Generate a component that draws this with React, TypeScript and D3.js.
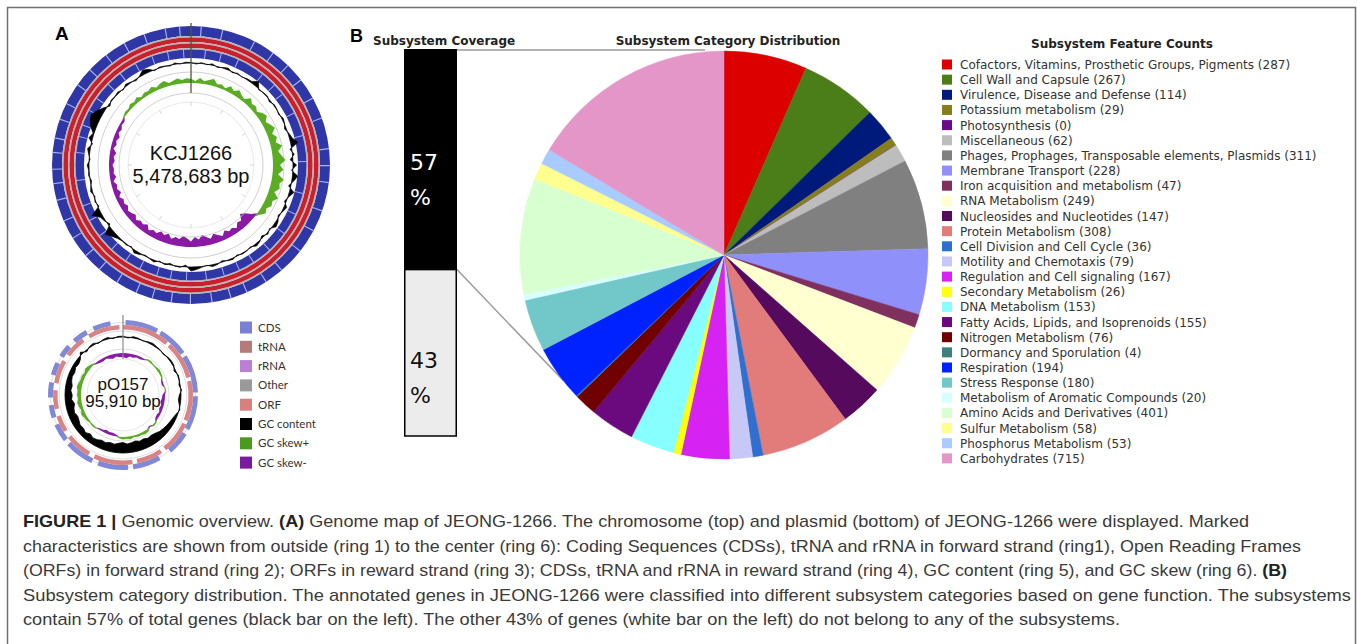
import React, { useEffect, useRef } from 'react';
import * as d3 from 'd3';

// ---- panel B: subsystem data ----
const categories = [
  'Cofactors, Vitamins, Prosthetic Groups, Pigments',
  'Cell Wall and Capsule',
  'Virulence, Disease and Defense',
  'Potassium metabolism',
  'Photosynthesis',
  'Miscellaneous',
  'Phages, Prophages, Transposable elements, Plasmids',
  'Membrane Transport',
  'Iron acquisition and metabolism',
  'RNA Metabolism',
  'Nucleosides and Nucleotides',
  'Protein Metabolism',
  'Cell Division and Cell Cycle',
  'Motility and Chemotaxis',
  'Regulation and Cell signaling',
  'Secondary Metabolism',
  'DNA Metabolism',
  'Fatty Acids, Lipids, and Isoprenoids',
  'Nitrogen Metabolism',
  'Dormancy and Sporulation',
  'Respiration',
  'Stress Response',
  'Metabolism of Aromatic Compounds',
  'Amino Acids and Derivatives',
  'Sulfur Metabolism',
  'Phosphorus Metabolism',
  'Carbohydrates',
];
const counts = [287, 267, 114, 29, 0, 62, 311, 228, 47, 249, 147, 308, 36, 79, 167, 26, 153, 155, 76, 4, 194, 180, 20, 401, 58, 53, 715];
const sliceColors = [
  '#dd0000', '#4b7d19', '#001a7c', '#857d1e', '#6a0a8a', '#bdbdbd', '#808080', '#9090fa',
  '#80305e', '#ffffd0', '#560a5e', '#e27c7a', '#2f6fd0', '#c8c8f6', '#d622f2', '#ffff10',
  '#88ffff', '#6a0a7e', '#700000', '#3f7f7f', '#0022ff', '#72c8c8', '#d8ffff', '#d8ffd0',
  '#ffff90', '#a8ccff', '#e496c8',
];
const coverageValues = [57, 43];

// ---- panel A: genome maps ----
const genomeLegend = ['CDS', 'tRNA', 'rRNA', 'Other', 'ORF', 'GC content', 'GC skew+', 'GC skew-'];
const genomeLegendColors = ['#7c80d2', '#b47b78', '#b87fd4', '#9a9a9a', '#d68080', '#000000', '#4a9a1e', '#7a1a9c'];

// deviation per 3 degree bin
const chromosomeGcContent = [
  0.05, -0.1, 0.1, -0.05, 0.15, -0.1, 0.05, 0.2, -0.1, 0.1,
  -0.05, 0.1, 0.15, 0.6, -0.1, 0.05, 0.1, -0.15, 0.1, 0.05,
  -0.1, 0.15, 0.05, -0.2, 0.1, 0.3, 0.8, -0.2, 0.2, -0.3,
  0.4, -0.15, 0.6, 0.2, -0.25, 0.5, 0.1, -0.2, 0.3, 0.1,
  -0.15, 0.2, 0.35, -0.1, 0.15, -0.2, 0.1, 0.25, -0.1, 0.05,
  0.1, -0.1, 0.15, 0.05, -0.15, 0.1, 0.2, -0.05, 0.1, 0.3,
  0.45, -0.2, 0.1, 0.05, -0.15, 0.1, -0.1, 0.2, 0.05, -0.1,
  0.15, 0.3, -0.1, 0.1, 0.05, 0.2, 0.5, 0.9, -0.2, 0.1,
  0.3, 1.0, -0.15, 0.1, -0.1, 0.2, 0.05, -0.15, 0.1, 0.05,
  0.2, -0.1, 0.1, 0.3, -0.15, 0.4, 0.1, 0.6, 0.9, 1.1,
  0.7, 0.3, -0.2, 0.1, 0.05, 0.15, -0.1, 0.2, 0.05, -0.15,
  0.1, 0.5, 0.3, -0.1, 0.1, 0.05, -0.1, 0.15, -0.05, 0.1,
];
const chromosomeGcSkew = [
  0.3, 0.15, 0.4, 0.2, 0.35, 0.5, 0.2, 0.3, 0.15, 0.45,
  0.25, 0.5, 0.3, 0.2, 0.55, 0.3, 0.4, 0.2, 0.45, 0.6,
  0.3, 0.5, 0.7, 0.35, 0.6, 0.4, 0.8, 0.45, 0.65, 0.9,
  0.5, 0.75, 0.4, 0.85, 0.6, 0.7, 0.4, 0.8, 0.5, 0.6,
  0.35, 0.5, 0.2, -0.3, -0.7, -0.9, -0.5, -0.6, -0.3, -0.5,
  -0.4, -0.6, -0.3, -0.5, -0.7, -0.4, -0.6, -0.8, -0.5, -0.7,
  -0.4, -0.6, -0.75, -0.5, -0.6, -0.4, -0.7, -0.5, -0.65, -0.4,
  -0.5, -0.3, -0.6, -0.4, -0.5, -0.3, -0.55, -0.4, -0.3, -0.5,
  -0.35, -0.45, -0.25, -0.5, -0.3, -0.4, -0.2, -0.45, -0.3, -0.35,
  -0.25, -0.4, -0.3, -0.45, -0.2, -0.35, -0.25, -0.4, -0.2, -0.3,
  -0.15, -0.2, 0.1, 0.2, 0.15, 0.3, 0.2, 0.35, 0.15, 0.3,
  0.25, 0.4, 0.2, 0.35, 0.45, 0.2, 0.3, 0.4, 0.25, 0.35,
];
const chromosomeFwdGaps = [4, 13, 27, 36, 44, 52, 61, 70, 83, 90, 97, 109, 118, 128, 139, 147, 156, 163, 171, 180, 188, 196, 203, 212, 221, 229, 238, 246, 255, 262, 268, 275, 281, 289, 296, 305, 313, 322, 331, 340, 349, 355];
const chromosomeRevGaps = [7, 15, 24, 38, 46, 52, 63, 75, 88, 104, 115, 126, 137, 147, 155, 163, 172, 182, 190, 197, 206, 214, 223, 232, 241, 249, 262, 276, 284, 290, 298, 305, 314, 322, 331, 340, 348, 356];

const plasmidGcContent = [
  0.1, -0.1, 0.15, 0.1, -0.05, 0.1, 0.2, 0.1, 0.05, -0.1, 0.1, 0.15,
  0.1, -0.2, 0.1, 0.05, -0.15, 0.1, -0.2, -0.3, -0.1, 0.1, -0.2, -0.4,
  -0.5, -0.6, -0.7, -0.8, -1.0, -1.1, -1.0, -1.2, -1.1, -1.3, -1.2, -1.1,
  -1.3, -1.2, -1.0, -1.1, -0.9, -1.0, -0.8, -0.7, -0.9, -0.6, -0.8, -0.7,
  -0.9, -1.0, -0.8, -0.9, -1.1, -0.8, -0.9, -0.7, -0.8, -0.6, -0.5, -0.6,
  -0.4, -0.5, -0.3, 0.3, -0.2, 0.1, 0.2, -0.1, 0.1, 0.2, -0.1, 0.1,
];
const plasmidGcSkew = [
  -0.8, -1.0, -0.6, -0.7, -0.4, -0.5, -0.3, 0.3, 0.4, 0.2, 0.3, 0.5,
  0.4, 0.3, -0.3, -0.4, 0.2, 0.3, -0.5, -0.6, -0.8, -0.5, -0.7, -0.4,
  -0.6, -0.5, 0.3, 0.4, -0.3, 0.5, 0.6, 0.4, 0.5, 0.3, 0.6, 0.4,
  0.5, 0.3, -0.4, -0.6, -0.5, -0.7, -0.4, -0.3, 0.3, 0.4, 0.2, 0.5,
  0.6, 0.8, 0.5, 0.7, 0.9, 0.6, 0.8, 0.7, 1.0, 0.8, 0.6, 0.7,
  0.5, 0.8, 0.6, 0.4, -0.3, -0.5, -0.6, -0.4, -0.7, -0.9, -0.6, -0.8,
];
const plasmidCds = [[2, 28], [31, 55], [58, 88], [91, 118], [122, 140], [150, 172], [176, 200], [205, 228], [232, 246], [252, 262], [268, 280], [286, 296], [302, 312], [318, 330], [336, 350]];
const plasmidOrf = [[0, 40], [43, 75], [78, 112], [115, 142], [146, 168], [172, 205], [210, 232], [238, 252], [258, 274], [280, 300], [306, 324], [330, 357]];

const captionLines: [string, boolean][][] = [
  [['FIGURE 1 | ', true], ['Genomic overview. ', false], ['(A)', true], [' Genome map of JEONG-1266. The chromosome (top) and plasmid (bottom) of JEONG-1266 were displayed. Marked', false]],
  [['characteristics are shown from outside (ring 1) to the center (ring 6): Coding Sequences (CDSs), tRNA and rRNA in forward strand (ring1), Open Reading Frames', false]],
  [['(ORFs) in forward strand (ring 2); ORFs in reward strand (ring 3); CDSs, tRNA and rRNA in reward strand (ring 4), GC content (ring 5), and GC skew (ring 6). ', false], ['(B)', true]],
  [['Subsystem category distribution. The annotated genes in JEONG-1266 were classified into different subsystem categories based on gene function. The subsystems', false]],
  [['contain 57% of total genes (black bar on the left). The other 43% of genes (white bar on the left) do not belong to any of the subsystems.', false]],
];
const captionWidths = [1226, 1278, 1264, 1328, 1097];

const W = 1357;
const H = 644;

const deg = d3.scaleLinear().domain([0, 360]).range([0, 2 * Math.PI]);

function ring(r0: number, r1: number, a0: number, a1: number) {
  return d3.arc()({ innerRadius: r0, outerRadius: r1, startAngle: deg(a0), endAngle: deg(a1) }) as string;
}

function drawTrack(g: any, values: number[], base: number, k: number, color: string, part: 'all' | 'pos' | 'neg', stroke = 0) {
  const n = values.length;
  const vals = values.map(v => (part === 'pos' ? Math.max(0, v) : part === 'neg' ? Math.min(0, v) : v));
  const area = d3.areaRadial<number>()
    .angle((_, i) => deg((i * 360) / n))
    .innerRadius(base)
    .outerRadius(d => base + d * k)
    .curve(d3.curveLinearClosed);
  g.append('path').attr('d', area(vals)).attr('fill', color)
    .attr('stroke', stroke ? color : 'none').attr('stroke-width', stroke);
}

function circle(g: any, r: number, color: string, w: number) {
  g.append('circle').attr('r', r).attr('fill', 'none').attr('stroke', color).attr('stroke-width', w);
}

const App: React.FC = () => {
  const svgRef = useRef<SVGSVGElement>(null);

  useEffect(() => {
    if (!svgRef.current) return;
    const svg = d3.select(svgRef.current);
    svg.selectAll('*').remove();

    svg.append('rect').attr('width', W).attr('height', H).attr('fill', '#fff');
    svg.append('path')
      .attr('d', `M7.5,${H + 5}V7.5H1355.5V${H + 5}`)
      .attr('fill', 'none').attr('stroke', '#707070').attr('stroke-width', 1.5);

    // ---------- panel A ----------
    svg.append('text').attr('x', 55).attr('y', 40)
      .style('font-family', 'Liberation Sans, Arial, sans-serif').style('font-weight', 'bold')
      .style('font-size', '19px').text('A');

    // chromosome
    const chr = svg.append('g').attr('transform', 'translate(191,165)');
    chr.append('path').attr('d', ring(129, 139, 0, 360)).attr('fill', '#2f36a6');
    chromosomeFwdGaps.forEach(a => chr.append('path').attr('d', ring(129, 139, a, a + 0.5)).attr('fill', '#a9b0ee'));
    chr.append('path').attr('d', ring(127.5, 129, 0, 360)).attr('fill', '#b4b4b4');
    chr.append('path').attr('d', ring(123, 127.5, 0, 360)).attr('fill', '#c8202c');
    chr.append('path').attr('d', ring(121.5, 123, 0, 360)).attr('fill', '#b4b4b4');
    chr.append('path').attr('d', ring(117, 121.5, 0, 360)).attr('fill', '#c8202c');
    chr.append('path').attr('d', ring(115.5, 117, 0, 360)).attr('fill', '#b4b4b4');
    chr.append('path').attr('d', ring(107, 115.5, 0, 360)).attr('fill', '#2f36a6');
    chromosomeRevGaps.forEach(a => chr.append('path').attr('d', ring(107, 115.5, a, a + 0.5)).attr('fill', '#a9b0ee'));

    drawTrack(chr, chromosomeGcContent, 102, 9, '#000', 'all', 0.7);
    circle(chr, 93, '#c4c4c4', 0.8);
    drawTrack(chr, chromosomeGcSkew, 82, 14, '#5aac22', 'pos');
    drawTrack(chr, chromosomeGcSkew, 82, 14, '#8a1aa6', 'neg');
    circle(chr, 72, '#c4c4c4', 0.8);
    circle(chr, 63, '#dadada', 0.6);
    d3.range(12).forEach(i => {
      const a = deg(i * 30);
      chr.append('line')
        .attr('x1', 63 * Math.sin(a)).attr('y1', -63 * Math.cos(a))
        .attr('x2', 59 * Math.sin(a)).attr('y2', -59 * Math.cos(a))
        .attr('stroke', '#bbb').attr('stroke-width', 0.6);
    });
    chr.append('line').attr('x1', 0).attr('y1', -72).attr('x2', 0).attr('y2', -142)
      .attr('stroke', '#4d5a3a').attr('stroke-width', 1.3);
    chr.append('text').attr('x', 0).attr('y', -5).attr('text-anchor', 'middle')
      .style('font-family', 'Liberation Sans, Arial, sans-serif').style('font-size', '20px').attr('fill', '#111')
      .text('KCJ1266');
    chr.append('text').attr('x', 0).attr('y', 18).attr('text-anchor', 'middle')
      .style('font-family', 'Liberation Sans, Arial, sans-serif').style('font-size', '20px').attr('fill', '#111')
      .text('5,478,683 bp');

    // plasmid
    const pl = svg.append('g').attr('transform', 'translate(123,395)');
    circle(pl, 72.5, '#c8c8c8', 0.6);
    plasmidCds.forEach(([a0, a1]) => pl.append('path').attr('d', ring(70, 75, a0, a1)).attr('fill', '#8088d8'));
    plasmidOrf.forEach(([a0, a1]) => pl.append('path').attr('d', ring(65.5, 70, a0, a1)).attr('fill', '#d88484'));
    circle(pl, 64, '#c8c8c8', 0.6);
    drawTrack(pl, plasmidGcContent, 58, 8, '#000', 'all', 0.8);
    circle(pl, 46, '#c8c8c8', 0.6);
    drawTrack(pl, plasmidGcSkew, 42, 5, '#5aac22', 'pos');
    drawTrack(pl, plasmidGcSkew, 42, 5, '#8a1aa6', 'neg');
    circle(pl, 36, '#d6d6d6', 0.6);
    pl.append('line').attr('x1', 0).attr('y1', -36).attr('x2', 0).attr('y2', -80)
      .attr('stroke', '#8a8a8a').attr('stroke-width', 1.2);
    pl.append('text').attr('x', 0).attr('y', -5).attr('text-anchor', 'middle')
      .style('font-family', 'Liberation Sans, Arial, sans-serif').style('font-size', '17px').attr('fill', '#111')
      .text('pO157');
    pl.append('text').attr('x', 0).attr('y', 12).attr('text-anchor', 'middle')
      .style('font-family', 'Liberation Sans, Arial, sans-serif').style('font-size', '17px').attr('fill', '#111')
      .text('95,910 bp');

    // genome legend
    const gl = svg.append('g').attr('transform', 'translate(240,327.5)');
    genomeLegend.forEach((name, i) => {
      gl.append('rect').attr('x', 0).attr('y', i * 19.3 - 6).attr('width', 12).attr('height', 12)
        .attr('fill', genomeLegendColors[i]);
      gl.append('text').attr('x', 18).attr('y', i * 19.3 + 4)
        .style('font-family', 'Lato, sans-serif').style('font-size', '11.5px').attr('fill', '#333')
        .text(name);
    });

    // ---------- panel B ----------
    const titleFont = (sel: any) => sel.style('font-family', 'DejaVu Sans, Verdana, sans-serif')
      .style('font-weight', 'bold').style('font-size', '12px').attr('fill', '#222');
    svg.append('text').attr('x', 350).attr('y', 42)
      .style('font-family', 'Liberation Sans, Arial, sans-serif').style('font-weight', 'bold')
      .style('font-size', '18px').text('B');
    titleFont(svg.append('text').attr('x', 373).attr('y', 45).text('Subsystem Coverage'));
    titleFont(svg.append('text').attr('x', 728).attr('y', 45).attr('text-anchor', 'middle').text('Subsystem Category Distribution'));
    titleFont(svg.append('text').attr('x', 1122).attr('y', 48).attr('text-anchor', 'middle').text('Subsystem Feature Counts'));

    // coverage bar
    const barY = d3.scaleLinear().domain([0, 100]).range([49, 436]);
    const barX0 = 404;
    const barW = 53;
    const covered = coverageValues[0];
    const cx = 724;
    const cy = 255;
    const R = 204;
    svg.append('line').attr('x1', barX0 + barW).attr('y1', barY(0) + 1).attr('x2', 705).attr('y2', barY(0) + 1)
      .attr('stroke', '#9a9a9a').attr('stroke-width', 1.5);
    const a = deg(232);
    svg.append('line').attr('x1', barX0 + barW).attr('y1', barY(covered))
      .attr('x2', cx + R * Math.sin(a)).attr('y2', cy - R * Math.cos(a))
      .attr('stroke', '#9a9a9a').attr('stroke-width', 1.5);
    svg.append('rect').attr('x', barX0).attr('y', barY(0)).attr('width', barW).attr('height', barY(covered) - barY(0))
      .attr('fill', '#000');
    svg.append('rect').attr('x', barX0 + 0.75).attr('y', barY(covered)).attr('width', barW - 1.5)
      .attr('height', barY(100) - barY(covered))
      .attr('fill', '#ececec').attr('stroke', '#000').attr('stroke-width', 1.5);
    const pctText = (x: number, y: number, t: string, c: string) => svg.append('text').attr('x', x).attr('y', y)
      .style('font-family', 'DejaVu Sans, Verdana, sans-serif').style('font-size', '22px').attr('fill', c).text(t);
    pctText(410, 170, `${coverageValues[0]}`, '#fff');
    pctText(410, 205, '%', '#fff');
    pctText(410, 368, `${coverageValues[1]}`, '#111');
    pctText(410, 403, '%', '#111');

    // pie
    const pie = d3.pie<number>().sort(null).value(d => d);
    const arc = d3.arc<d3.PieArcDatum<number>>().innerRadius(0).outerRadius(R);
    svg.append('g').attr('transform', `translate(${cx},${cy})`)
      .selectAll('path')
      .data(pie(counts))
      .enter()
      .append('path')
      .attr('d', arc)
      .attr('fill', (_, i) => sliceColors[i])
      .attr('stroke', (_, i) => sliceColors[i])
      .attr('stroke-width', 0.5);

    // legend
    const lg = svg.append('g').attr('transform', 'translate(942,64.5)');
    categories.forEach((name, i) => {
      lg.append('rect').attr('x', 0).attr('y', i * 15.15 - 5).attr('width', 10).attr('height', 10)
        .attr('fill', sliceColors[i]);
      lg.append('text').attr('x', 18).attr('y', i * 15.15 + 4.5)
        .style('font-family', 'DejaVu Sans, Verdana, sans-serif').style('font-size', '12px').attr('fill', '#333')
        .text(`${name} (${counts[i]})`);
    });

    // ---------- caption ----------
    captionLines.forEach((parts, i) => {
      const t = svg.append('text').attr('x', 23).attr('y', 527 + i * 24.5)
        .attr('textLength', captionWidths[i]).attr('lengthAdjust', 'spacingAndGlyphs')
        .style('font-family', 'Liberation Sans, Arial, sans-serif').style('font-size', '17px').attr('fill', '#333');
      parts.forEach(([s, b]) => {
        t.append('tspan').style('font-weight', b ? 'bold' : 'normal').attr('fill', b ? '#222' : '#3a3a3a').text(s);
      });
    });
  }, []);

  return (
    <svg ref={svgRef} width={W} height={H}
      style={{ position: 'absolute', left: 0, top: 0, display: 'block' }} />
  );
};

export default App;
